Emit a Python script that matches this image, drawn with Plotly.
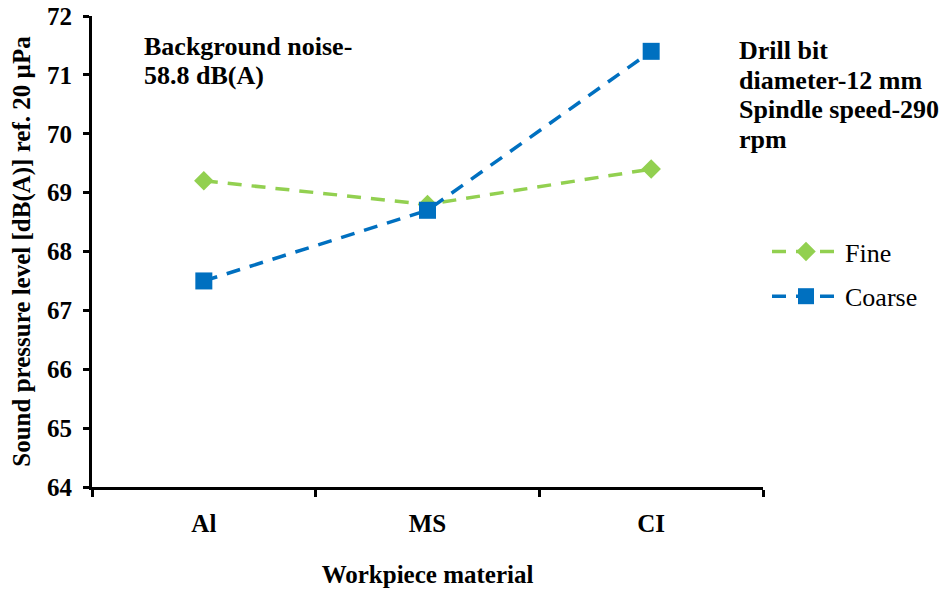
import plotly.graph_objects as go

materials = ["Al", "MS", "CI"]
fine = [69.2, 68.8, 69.4]
coarse = [67.5, 68.7, 71.4]
y_ticks = [64, 65, 66, 67, 68, 69, 70, 71, 72]

GREEN = "#92D050"
BLUE = "#0070C0"
FONT = "Liberation Serif"

# plot area in pixels
L, R, T, B = 92, 763, 16, 487
W, H = 943, 590
PW, PH = R - L, B - T


def px(xp):
    return (xp - L) / PW


def py(yp):
    return (B - yp) / PH


fig = go.Figure()
fig.add_trace(go.Scatter(
    x=materials, y=fine, name="Fine", mode="lines+markers", legendgroup="a",
    line=dict(color=GREEN, width=3.5, dash="14px,10px"),
    marker=dict(symbol="diamond", size=15, color=GREEN),
))
fig.add_trace(go.Scatter(
    x=materials, y=coarse, name="Coarse", mode="lines+markers", legendgroup="b",
    line=dict(color=BLUE, width=3.5, dash="14px,10px"),
    marker=dict(symbol="square", size=17, color=BLUE),
))

fig.update_layout(
    width=W, height=H,
    margin=dict(l=L, r=W - R, t=T, b=H - B, autoexpand=False),
    paper_bgcolor="white", plot_bgcolor="white",
    font=dict(family=FONT, color="black"),
    showlegend=True,
    legend=dict(
        x=px(767), xanchor="left", y=py(274), yanchor="middle",
        font=dict(family=FONT, size=26, color="black"),
        tracegroupgap=8, itemwidth=68, traceorder="grouped",
        bgcolor="rgba(0,0,0,0)",
    ),
    xaxis=dict(
        type="category", categoryorder="array", categoryarray=materials,
        range=[-0.5, 2.5], automargin=False,
        showline=True, linecolor="black", linewidth=3,
        ticks="outside", tickson="boundaries", ticklen=7, tickwidth=3, tickcolor="black",
        ticklabelstandoff=12,
        showgrid=False, zeroline=False,
        tickfont=dict(family=FONT, size=25, color="black", weight="bold"),
        title=dict(text="<b>Workpiece material</b>", font=dict(family=FONT, size=25, color="black"), standoff=30),
    ),
    yaxis=dict(
        range=[64, 72], tickvals=y_ticks, automargin=False,
        showline=True, linecolor="black", linewidth=3,
        ticks="outside", ticklen=6, tickwidth=3, tickcolor="black",
        ticklabelstandoff=6,
        showgrid=False, zeroline=False,
        tickfont=dict(family=FONT, size=25, color="black", weight="bold"),
        title=dict(text="<b>Sound pressure level [dB(A)] ref. 20 µPa</b>", font=dict(family=FONT, size=25, color="black"), standoff=10),
    ),
)

bg_lines = ["Background noise-", "58.8 dB(A)"]
bg_centers = [47, 76]
for txt, yc in zip(bg_lines, bg_centers):
    fig.add_annotation(
        text="<b>" + txt + "</b>", xref="paper", yref="paper",
        x=px(143), y=py(yc), xanchor="left", yanchor="middle", align="left",
        showarrow=False, borderpad=0,
        font=dict(family=FONT, size=26, color="black"),
    )

drill_lines = ["Drill bit", "diameter-12 mm", "Spindle speed-290", "rpm"]
drill_centers = [51, 81, 110, 139]
for txt, yc in zip(drill_lines, drill_centers):
    fig.add_annotation(
        text="<b>" + txt + "</b>", xref="paper", yref="paper",
        x=px(738), y=py(yc), xanchor="left", yanchor="middle", align="left",
        showarrow=False, borderpad=0,
        font=dict(family=FONT, size=26, color="black"),
    )

fig.write_html(
    "out.html",
    config={"displayModeBar": False},
    post_script="document.body.style.margin='0';",
)
